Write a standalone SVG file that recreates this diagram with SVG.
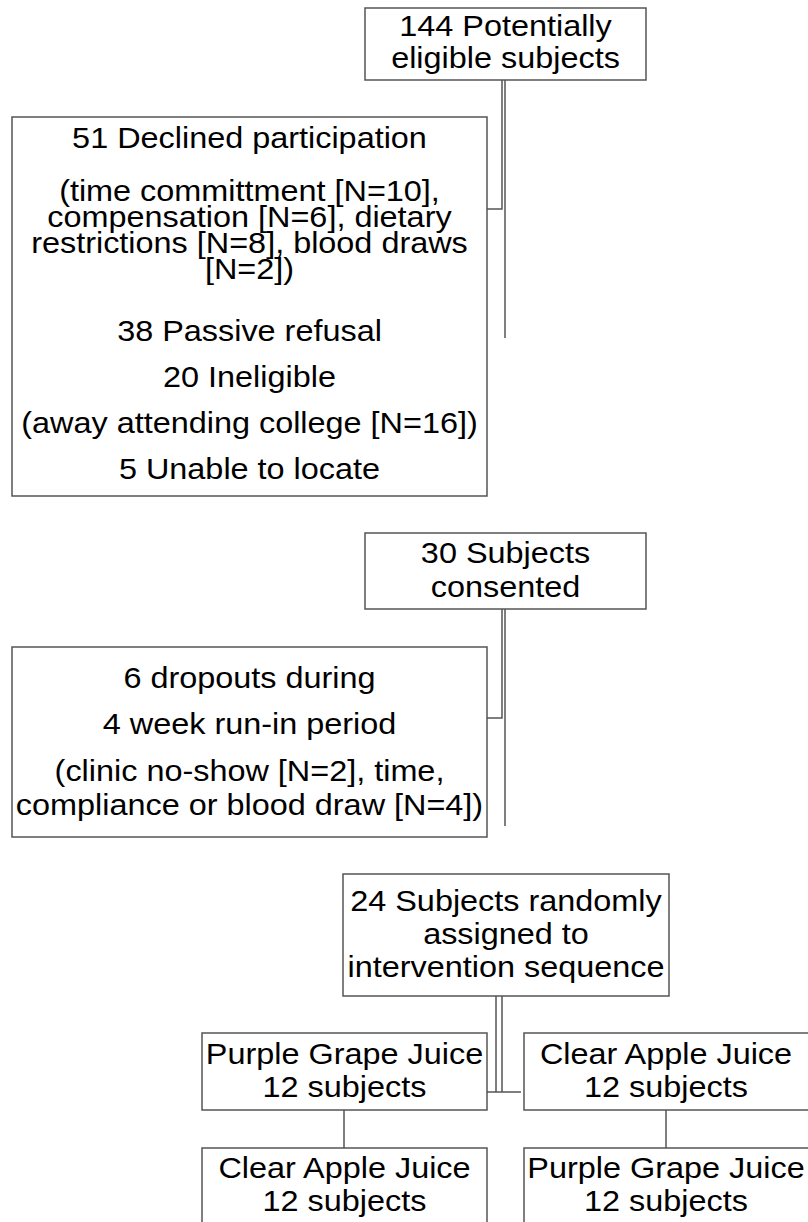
<svg xmlns="http://www.w3.org/2000/svg" width="808" height="1222" viewBox="0 0 808 1222">
<style>
.box{fill:#fff;stroke:#555;stroke-width:1.5}
.ln{fill:none;stroke:#555;stroke-width:1.5}
text{font-family:"Liberation Sans",Arial,sans-serif;font-size:30px;fill:#000;text-anchor:middle}
</style>
<rect width="808" height="1222" fill="#fff"/>
<g id="connectors">
<path class="ln" d="M502 80V209H477M505 80V338"/>
<path class="ln" d="M502 609V718H477M505 609V826"/>
<path class="ln" d="M496 996V1092M502 996V1092M477 1092H521"/>
<path class="ln" d="M344 1110V1160M666 1110V1157"/>
</g>
<g id="n1">
<rect class="box" x="365" y="8" width="281" height="72"/>
<text transform="translate(505.5 0) scale(1.08 1)" y="36">144 Potentially</text>
<text transform="translate(505.5 0) scale(1.08 1)" y="68">eligible subjects</text>
</g>
<g id="n2">
<rect class="box" x="12" y="117" width="475" height="379"/>
<text transform="translate(249.5 0) scale(1.08 1)" y="148">51 Declined participation</text>
<text transform="translate(249.5 0) scale(1.08 1)" y="201">(time committment [N=10],</text>
<text transform="translate(249.5 0) scale(1.08 1)" y="227">compensation [N=6], dietary</text>
<text transform="translate(249.5 0) scale(1.08 1)" y="253">restrictions [N=8], blood draws</text>
<text transform="translate(249.5 0) scale(1.08 1)" y="279">[N=2])</text>
<text transform="translate(249.5 0) scale(1.08 1)" y="341">38 Passive refusal</text>
<text transform="translate(249.5 0) scale(1.08 1)" y="387">20 Ineligible</text>
<text transform="translate(249.5 0) scale(1.08 1)" y="433">(away attending college [N=16])</text>
<text transform="translate(249.5 0) scale(1.08 1)" y="479">5 Unable to locate</text>
</g>
<g id="n3">
<rect class="box" x="365" y="533" width="281" height="76"/>
<text transform="translate(505.5 0) scale(1.08 1)" y="563">30 Subjects</text>
<text transform="translate(505.5 0) scale(1.08 1)" y="597">consented</text>
</g>
<g id="n4">
<rect class="box" x="12" y="647" width="475" height="190"/>
<text transform="translate(249.5 0) scale(1.08 1)" y="688">6 dropouts during</text>
<text transform="translate(249.5 0) scale(1.08 1)" y="734">4 week run-in period</text>
<text transform="translate(249.5 0) scale(1.08 1)" y="781">(clinic no-show [N=2], time,</text>
<text transform="translate(249.5 0) scale(1.08 1)" y="815">compliance or blood draw [N=4])</text>
</g>
<g id="n5">
<rect class="box" x="343" y="874" width="326" height="122"/>
<text transform="translate(506 0) scale(1.08 1)" y="911">24 Subjects randomly</text>
<text transform="translate(506 0) scale(1.08 1)" y="944">assigned to</text>
<text transform="translate(506 0) scale(1.08 1)" y="977">intervention sequence</text>
</g>
<g id="n6">
<rect class="box" x="202" y="1033" width="285" height="77"/>
<text transform="translate(344.5 0) scale(1.08 1)" y="1064">Purple Grape Juice</text>
<text transform="translate(344.5 0) scale(1.08 1)" y="1097">12 subjects</text>
</g>
<g id="n7">
<rect class="box" x="524" y="1033" width="290" height="77"/>
<text transform="translate(666 0) scale(1.08 1)" y="1064">Clear Apple Juice</text>
<text transform="translate(666 0) scale(1.08 1)" y="1097">12 subjects</text>
</g>
<g id="n8">
<rect class="box" x="202" y="1148" width="285" height="90"/>
<text transform="translate(344.5 0) scale(1.08 1)" y="1178">Clear Apple Juice</text>
<text transform="translate(344.5 0) scale(1.08 1)" y="1211">12 subjects</text>
</g>
<g id="n9">
<rect class="box" x="524" y="1148" width="290" height="90"/>
<text transform="translate(666 0) scale(1.08 1)" y="1178">Purple Grape Juice</text>
<text transform="translate(666 0) scale(1.08 1)" y="1211">12 subjects</text>
</g>
</svg>
